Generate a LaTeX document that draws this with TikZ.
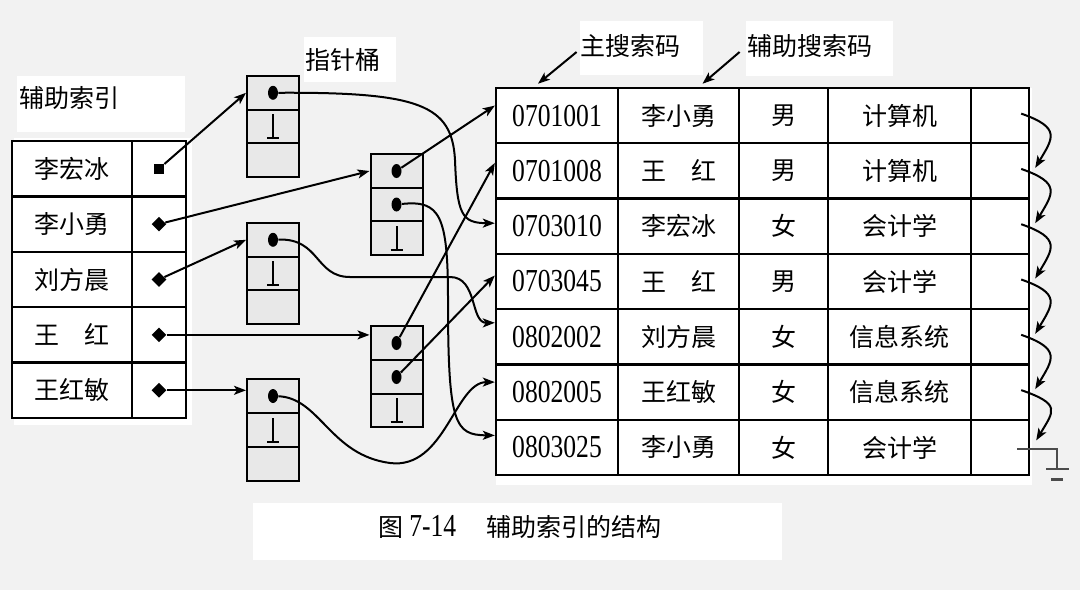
\documentclass[tikz,border=0pt]{standalone}
\usepackage{fontspec}
\setmainfont{Noto Sans CJK SC}
\newfontfamily\codefont[FakeStretch=0.8]{Liberation Serif}
\usetikzlibrary{arrows.meta,shapes.geometric}
\definecolor{pagegray}{HTML}{F2F2F2}
\definecolor{bucketgray}{HTML}{E8E8E8}
\newcommand{\nilmark}{\makebox[6pt][l]{\rule{6pt}{1pt}\hspace{-3.5pt}\rule{1pt}{12.5pt}}}

\begin{document}
\begin{tikzpicture}[
    x=0.5pt, y=-0.5pt,
    font=\fontsize{12.5pt}{15pt}\selectfont,
    >={Stealth[length=6pt,width=4.5pt,inset=1.5pt]},
    cell/.style={draw,line width=1.2pt,fill=white,inner sep=0pt,minimum height=27.65pt},
    code/.style={font=\codefont\fontsize{16pt}{18pt}\selectfont},
    idxname/.style={cell,minimum width=60pt},
    idxptr/.style={cell,minimum width=27pt},
    keycol/.style={cell,code,minimum width=61pt},
    namecol/.style={cell,minimum width=60.5pt},
    sexcol/.style={cell,minimum width=44.5pt},
    deptcol/.style={cell,minimum width=71.5pt},
    linkcol/.style={cell,minimum width=29pt},
    slot/.style={draw,line width=1pt,fill=bucketgray,inner sep=0pt,minimum width=26pt,minimum height=16.85pt},
    dot/.style={ellipse,fill,inner sep=0pt,minimum width=5pt,minimum height=7pt},
    tail/.style={diamond,fill,inner sep=0pt,minimum size=7.5pt},
    link/.style={->,line width=1pt}
  ]
  \fill[pagegray] (0,0) rectangle (1080,590);
  \useasboundingbox (0,0) rectangle (1080,590);
  \fill[white] (14,138) rectangle (192,425);
  \fill[white] (17,76) rectangle (185,132);
  \fill[white] (304,37) rectangle (396,82);
  \fill[white] (580,21) rectangle (703,75);
  \fill[white] (746,21) rectangle (893,76);
  \fill[white] (496,88) rectangle (1032,485);
  \fill[white] (253,503) rectangle (782,560);

  % labels
  \node (lblidx) [inner sep=0pt] at (69,98) {辅助索引};
  \node (lblbkt) [inner sep=0pt] at (343,60) {指针桶};
  \node (lblkey) [inner sep=0pt] at (630,46) {主搜索码};
  \node (lblsec) [inner sep=0pt] at (809.5,46) {辅助搜索码};
  \node (caption) at (520,527) {图 {\codefont\fontsize{16pt}{18pt}\selectfont 7-14}\hspace{1.2em}辅助索引的结构};

  % secondary index
  \node (n1) [idxname] at (72,168.7) {李宏冰};
  \node (p1) [idxptr] at (159,168.7) {};
  \node (n2) [idxname] at (72,224.1) {李小勇};
  \node (p2) [idxptr] at (159,224.1) {};
  \node (n3) [idxname] at (72,279.5) {刘方晨};
  \node (p3) [idxptr] at (159,279.5) {};
  \node (n4) [idxname] at (72,334.9) {王　红};
  \node (p4) [idxptr] at (159,334.9) {};
  \node (n5) [idxname] at (72,390.3) {王红敏};
  \node (p5) [idxptr] at (159,390.3) {};
  \node (t1) [fill,inner sep=0pt,minimum size=5pt] at (p1) {};
  \node (t2) [tail] at (p2) {};
  \node (t3) [tail] at (p3) {};
  \node (t4) [tail] at (p4) {};
  \node (t5) [tail] at (p5) {};

  % pointer buckets
  \node (a1) [slot] at (273,92.8) {};
  \node (a2) [slot] at (273,126.5) {\nilmark};
  \node (a3) [slot] at (273,160.2) {};
  \node (b1) [slot] at (273,239.8) {};
  \node (b2) [slot] at (273,273.5) {\nilmark};
  \node (b3) [slot] at (273,307.2) {};
  \node (c1) [slot] at (273,396) {};
  \node (c2) [slot] at (273,430) {\nilmark};
  \node (c3) [slot] at (273,464) {};
  \node (d1) [slot] at (396.5,171) {};
  \node (d2) [slot] at (396.5,204.5) {};
  \node (d3) [slot] at (396.5,238) {\nilmark};
  \node (e1) [slot] at (396.5,343) {};
  \node (e2) [slot] at (396.5,377) {};
  \node (e3) [slot] at (396.5,410.5) {\nilmark};
  \node (da) [dot] at (a1) {};
  \node (db) [dot] at (b1) {};
  \node (dc) [dot] at (c1) {};
  \node (dd1) [dot] at (d1) {};
  \node (dd2) [dot] at (d2) {};
  \node (de1) [dot] at (e1) {};
  \node (de2) [dot] at (e2) {};

  % main file
  \node (m1a) [keycol] at (557,115.6) {0701001};
  \node (m1b) [namecol] at (678.5,115.6) {李小勇};
  \node (m1c) [sexcol] at (783.5,115.6) {男};
  \node (m1d) [deptcol] at (899.5,115.6) {计算机};
  \node (m1e) [linkcol] at (1000,115.6) {};
  \node (m2a) [keycol] at (557,170.9) {0701008};
  \node (m2b) [namecol] at (678.5,170.9) {王　红};
  \node (m2c) [sexcol] at (783.5,170.9) {男};
  \node (m2d) [deptcol] at (899.5,170.9) {计算机};
  \node (m2e) [linkcol] at (1000,170.9) {};
  \node (m3a) [keycol] at (557,226.2) {0703010};
  \node (m3b) [namecol] at (678.5,226.2) {李宏冰};
  \node (m3c) [sexcol] at (783.5,226.2) {女};
  \node (m3d) [deptcol] at (899.5,226.2) {会计学};
  \node (m3e) [linkcol] at (1000,226.2) {};
  \node (m4a) [keycol] at (557,281.5) {0703045};
  \node (m4b) [namecol] at (678.5,281.5) {王　红};
  \node (m4c) [sexcol] at (783.5,281.5) {男};
  \node (m4d) [deptcol] at (899.5,281.5) {会计学};
  \node (m4e) [linkcol] at (1000,281.5) {};
  \node (m5a) [keycol] at (557,336.8) {0802002};
  \node (m5b) [namecol] at (678.5,336.8) {刘方晨};
  \node (m5c) [sexcol] at (783.5,336.8) {女};
  \node (m5d) [deptcol] at (899.5,336.8) {信息系统};
  \node (m5e) [linkcol] at (1000,336.8) {};
  \node (m6a) [keycol] at (557,392.1) {0802005};
  \node (m6b) [namecol] at (678.5,392.1) {王红敏};
  \node (m6c) [sexcol] at (783.5,392.1) {女};
  \node (m6d) [deptcol] at (899.5,392.1) {信息系统};
  \node (m6e) [linkcol] at (1000,392.1) {};
  \node (m7a) [keycol] at (557,447.4) {0803025};
  \node (m7b) [namecol] at (678.5,447.4) {李小勇};
  \node (m7c) [sexcol] at (783.5,447.4) {女};
  \node (m7d) [deptcol] at (899.5,447.4) {会计学};
  \node (m7e) [linkcol] at (1000,447.4) {};

  % index -> buckets
  \draw [link] (t1) -- (a1.west);
  \draw [link] (t2) -- (d1.west);
  \draw [link] (t3) -- (b1.west);
  \draw [link] (t4) -- (t4 -| e1.west);
  \draw [link] (t5) -- (t5 -| c1.west);

  % buckets -> records
  \draw [link] (da) .. controls (420,92) and (452,105) .. (455,160) .. controls (457,215) and (462,223) .. ([yshift=1.5pt]m3a.west);
  \draw [link] (dd1) -- ([yshift=5pt]m1a.west);
  \draw [link] (dd2) .. controls (440,200) and (448,215) .. (448,300) .. controls (448,425) and (455,435) .. ([yshift=6pt]m7a.west);
  \draw [link] (db) .. controls (320,238) and (315,277) .. (350,277) -- (450,277) .. controls (478,277) and (470,323) .. ([yshift=7pt]m5a.west);
  \draw [link] (de1) -- ([yshift=4pt]m2a.west);
  \draw [link] (de2) -- ([yshift=3pt]m4a.west);
  \draw [link] (dc) .. controls (320,398) and (330,455) .. (390,463) .. controls (445,470) and (455,382) .. ([yshift=5pt]m6a.west);

  % search key labels
  \draw [link] ([xshift=-1.5pt,yshift=-3pt]lblkey.west) -- ([xshift=-9.5pt,yshift=1.5pt]m1a.north);
  \draw [link] ([xshift=-3.5pt,yshift=-3pt]lblsec.west) -- ([xshift=12pt,yshift=1.5pt]m1b.north);

  % record chain
  \draw [link] ([xshift=-4.5pt,yshift=1pt]m1e.east) .. controls +(40,14) and +(18,-30) .. ([xshift=2.5pt,yshift=1.5pt]m2e.east);
  \draw [link] ([xshift=-4.5pt,yshift=1pt]m2e.east) .. controls +(40,14) and +(18,-30) .. ([xshift=2.5pt,yshift=1.5pt]m3e.east);
  \draw [link] ([xshift=-4.5pt,yshift=1pt]m3e.east) .. controls +(40,14) and +(18,-30) .. ([xshift=2.5pt,yshift=1.5pt]m4e.east);
  \draw [link] ([xshift=-4.5pt,yshift=1pt]m4e.east) .. controls +(40,14) and +(18,-30) .. ([xshift=2.5pt,yshift=1.5pt]m5e.east);
  \draw [link] ([xshift=-4.5pt,yshift=1pt]m5e.east) .. controls +(40,14) and +(18,-30) .. ([xshift=2.5pt,yshift=1.5pt]m6e.east);
  \draw [link] ([xshift=-4.5pt,yshift=1pt]m6e.east) .. controls +(40,14) and +(18,-30) .. ([xshift=3pt,yshift=3.5pt]m7e.east);
  \draw [gray!60!black,line width=1pt] ([xshift=-6.5pt,yshift=-0.8pt]m7e.east) -- ++(40,0) -- ++(0,20) coordinate (gnd);
  \draw [gray!60!black,line width=1pt] (gnd) ++(-11,0) -- ++(23,0);
  \draw [gray!60!black,line width=1.5pt] (gnd) ++(-6,10) -- ++(12,0);
\end{tikzpicture}
\end{document}
